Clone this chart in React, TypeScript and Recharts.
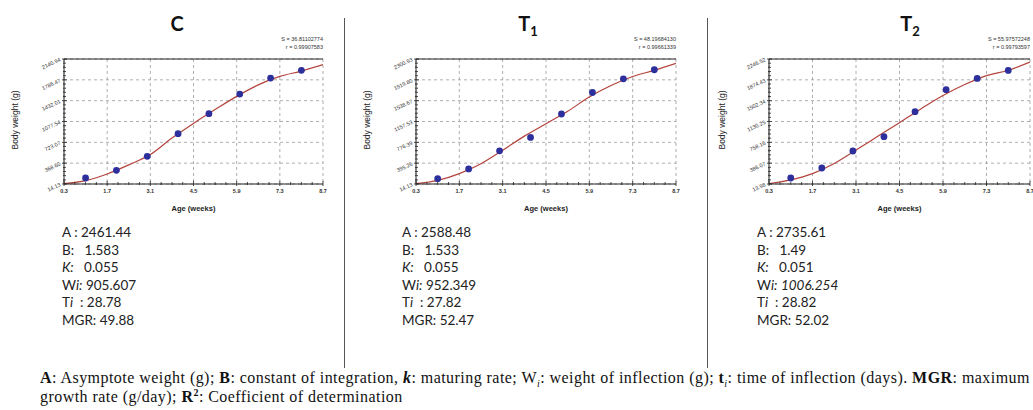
import React from "react";
import {
  ComposedChart,
  Line,
  Scatter,
  XAxis,
  YAxis,
  CartesianGrid,
  ReferenceLine,
} from "recharts";

// observed body weight (g) per week
const weeks = [1, 2, 3, 4, 5, 6, 7, 8];
const weightC = [116, 247, 485, 870, 1210, 1545, 1817, 1948];
const weightT1 = [112, 290, 621, 866, 1295, 1688, 1939, 2104];
const weightT2 = [121, 300, 603, 859, 1305, 1698, 1900, 2043];

// fitted curve
const fitAges = [0.3, 1.0, 1.7, 2.4, 3.1, 3.8, 4.5, 5.2, 5.9, 6.6, 7.3, 8.0, 8.7];
const fitC = [20, 72, 185, 340, 515, 795, 1045, 1280, 1505, 1700, 1845, 1935, 2045];
const fitT1 = [20, 80, 205, 385, 630, 890, 1117, 1345, 1605, 1815, 1980, 2093, 2220];
const fitT2 = [20, 88, 200, 380, 620, 865, 1110, 1360, 1595, 1790, 1950, 2045, 2190];

const xTicks = [0.3, 1.7, 3.1, 4.5, 5.9, 7.3, 8.7];
const yTicksC = [14.13, 368.6, 723.07, 1077.54, 1432.01, 1786.47, 2140.94];
const yTicksT1 = [14.13, 395.26, 776.39, 1157.53, 1538.67, 1919.8, 2300.93];
const yTicksT2 = [13.98, 386.07, 758.16, 1130.25, 1502.34, 1874.43, 2246.52];

const fitStats = [
  { s: "S = 36.81102774", r: "r = 0.99907583" },
  { s: "S = 48.19684130", r: "r = 0.99661339" },
  { s: "S = 55.97572248", r: "r = 0.99793597" },
];

const paramA = ["2461.44", "2588.48", "2735.61"];
const paramB = ["1.583", "1.533", "1.49"];
const paramK = ["0.055", "0.055", "0.051"];
const paramWi = ["905.607", "952.349", "1006.254"];
const paramTi = ["28.78", "27.82", "28.82"];
const paramMGR = ["49.88", "52.47", "52.02"];

const withMinor = (majors: number[], parts: number) => {
  const out: number[] = [];
  for (let i = 0; i < majors.length - 1; i++) {
    const step = (majors[i + 1] - majors[i]) / parts;
    for (let j = 0; j < parts; j++) out.push(majors[i] + step * j);
  }
  out.push(majors[majors.length - 1]);
  return out;
};

const isIn = (list: number[], v: number) => list.some((m) => Math.abs(m - v) < 1e-6);

const YTick = (props: any) => {
  const { x, y, payload, majors } = props;
  const major = isIn(majors, payload.value);
  return (
    <g>
      <line x1={x - (major ? 2 : 1)} x2={x + (major ? 3 : 2)} y1={y} y2={y} stroke="#222" strokeWidth={0.8} />
      {major && (
        <text
          x={x - 3}
          y={y + 2}
          textAnchor="end"
          fontSize={5.5}
          fill="#333"
          fontFamily="Arial, 'Liberation Sans', sans-serif"
          transform={`rotate(-25 ${x - 3} ${y + 2})`}
        >
          {payload.value.toFixed(2)}
        </text>
      )}
    </g>
  );
};

const XTick = (props: any) => {
  const { x, y, payload } = props;
  const major = isIn(xTicks, payload.value);
  return (
    <g>
      <line x1={x} x2={x} y1={y - (major ? 3 : 2)} y2={y + (major ? 2 : 1)} stroke="#222" strokeWidth={0.8} />
      {major && (
        <text
          x={x}
          y={y + 9}
          textAnchor="middle"
          fontSize={5.5}
          fontWeight="bold"
          fill="#333"
          fontFamily="Arial, 'Liberation Sans', sans-serif"
        >
          {payload.value.toFixed(1)}
        </text>
      )}
    </g>
  );
};

type PanelProps = {
  plotLeft: number;
  plotWidth: number;
  weights: number[];
  fit: number[];
  yTicks: number[];
};

const AXIS_W = 60;

function GrowthPanel({ plotLeft, plotWidth, weights, fit, yTicks }: PanelProps) {
  const points = weeks.map((x, i) => ({ x, w: weights[i] }));
  const curve = fitAges.map((x, i) => ({ x, w: fit[i] }));
  const yAll = withMinor(yTicks, 5);
  const xAll = withMinor(xTicks, 4);
  return (
    <div style={{ position: "absolute", left: plotLeft - AXIS_W, top: 0 }}>
      <ComposedChart
        width={AXIS_W + plotWidth + 4}
        height={215}
        margin={{ top: 59, right: 4, bottom: 0, left: 0 }}
      >
        <CartesianGrid
          stroke="#9a9a9a"
          strokeDasharray="3 3"
          strokeWidth={0.8}
          horizontalValues={yTicks}
          verticalValues={xTicks}
        />
        <XAxis
          dataKey="x"
          type="number"
          domain={[0.3, 8.7]}
          ticks={xAll}
          interval={0}
          height={31}
          tickLine={false}
          tickSize={0}
          tickMargin={0}
          axisLine={{ stroke: "#222", strokeWidth: 1 }}
          tick={<XTick />}
          allowDataOverflow
        />
        <YAxis
          type="number"
          domain={[yTicks[0], yTicks[yTicks.length - 1]]}
          ticks={yAll}
          interval={0}
          width={AXIS_W}
          tickLine={false}
          tickSize={0}
          tickMargin={0}
          axisLine={{ stroke: "#222", strokeWidth: 1 }}
          tick={<YTick majors={yTicks} />}
          allowDataOverflow
        />
        <ReferenceLine y={yTicks[yTicks.length - 1]} stroke="#222" strokeWidth={1} />
        <Line
          data={curve}
          dataKey="w"
          type="monotone"
          stroke="#b4433d"
          strokeWidth={1.2}
          dot={false}
          isAnimationActive={false}
        />
        <Scatter
          data={points}
          dataKey="w"
          fill="#2d2f9c"
          shape={(p: any) => <circle cx={p.cx} cy={p.cy} r={3.4} fill="#2d2f9c" />}
          isAnimationActive={false}
        />
      </ComposedChart>
    </div>
  );
}

const sans = "Lato, 'Open Sans', sans-serif";
const arial = "Arial, 'Liberation Sans', sans-serif";

const panels = [
  { plotLeft: 64, plotWidth: 259, weights: weightC, fit: fitC, yTicks: yTicksC, titleX: 177, statsX: 62, yLabelX: 15 },
  { plotLeft: 416, plotWidth: 260, weights: weightT1, fit: fitT1, yTicks: yTicksT1, titleX: 528, statsX: 402, yLabelX: 367 },
  { plotLeft: 769, plotWidth: 261, weights: weightT2, fit: fitT2, yTicks: yTicksT2, titleX: 910, statsX: 757, yLabelX: 722 },
];

function Title({ i }: { i: number }) {
  if (i === 0) return <span>C</span>;
  return (
    <span>
      T<sub style={{ fontSize: 13, verticalAlign: -5 }}>{i}</sub>
    </span>
  );
}

export default function App() {
  return (
    <div
      style={{
        position: "absolute",
        left: 0,
        top: 0,
        width: 1033,
        height: 410,
        overflow: "hidden",
        background: "#fff",
      }}
    >
      {panels.map((p, i) => (
        <React.Fragment key={i}>
          <GrowthPanel {...p} />
          <div
            style={{
              position: "absolute",
              left: p.titleX - 30,
              width: 60,
              top: 11,
              textAlign: "center",
              fontFamily: sans,
              fontWeight: 700,
              fontSize: 20,
              lineHeight: "24px",
              color: "#111",
            }}
          >
            <Title i={i} />
          </div>
          <div
            style={{
              position: "absolute",
              left: p.plotLeft + p.plotWidth - 80,
              width: 80,
              top: 36,
              textAlign: "right",
              fontFamily: arial,
              fontSize: 5.5,
              lineHeight: "7.5px",
              color: "#333",
              whiteSpace: "nowrap",
            }}
          >
            <div>{fitStats[i].s}</div>
            <div>{fitStats[i].r}</div>
          </div>
          <div
            style={{
              position: "absolute",
              left: p.yLabelX - 50,
              top: 115,
              width: 100,
              textAlign: "center",
              transform: "rotate(-90deg)",
              fontFamily: arial,
              fontSize: 8.5,
              lineHeight: "10px",
              color: "#222",
            }}
          >
            Body weight (g)
          </div>
          <div
            style={{
              position: "absolute",
              left: p.plotLeft + p.plotWidth / 2 - 50,
              top: 204,
              width: 100,
              textAlign: "center",
              fontFamily: arial,
              fontWeight: 600,
              fontSize: 7.5,
              lineHeight: "10px",
              color: "#222",
            }}
          >
            Age (weeks)
          </div>
          <div
            style={{
              position: "absolute",
              left: p.statsX,
              top: 224,
              fontFamily: sans,
              fontSize: 13.5,
              lineHeight: "17.5px",
              color: "#222",
              whiteSpace: "pre",
            }}
          >
            <div>A : {paramA[i]}</div>
            <div>B:   {paramB[i]}</div>
            <div>
              <i>K:</i>   {paramK[i]}
            </div>
            <div>
              W<i>i:</i> {i === 2 ? <i>{paramWi[i]}</i> : paramWi[i]}
            </div>
            <div>
              T<i>i</i>  : {paramTi[i]}
            </div>
            <div>MGR: {paramMGR[i]}</div>
          </div>
        </React.Fragment>
      ))}
      <div style={{ position: "absolute", left: 344, top: 18, width: 1, height: 350, background: "#555" }} />
      <div style={{ position: "absolute", left: 707, top: 18, width: 1, height: 350, background: "#555" }} />
      <div
        style={{
          position: "absolute",
          left: 40,
          top: 368,
          fontFamily: "'Liberation Serif', 'Times New Roman', serif",
          fontSize: 16,
          letterSpacing: 0.45,
          lineHeight: "19px",
          color: "#111",
          whiteSpace: "nowrap",
        }}
      >
        <div style={{ height: 19 }}>
          <b>A</b>: Asymptote weight (g); <b>B</b>: constant of integration, <b><i>k</i></b>: maturing rate; W
          <sub style={{ fontSize: 10, lineHeight: 0 }}><i>i</i></sub>: weight of inflection (g); <b>t</b>
          <sub style={{ fontSize: 10, lineHeight: 0 }}><i>i</i></sub>: time of inflection (days). <b>MGR</b>: maximum
        </div>
        <div style={{ height: 19 }}>
          growth rate (g/day); <b>R</b>
          <sup style={{ fontSize: 10, lineHeight: 0 }}><b>2</b></sup>: Coefficient of determination
        </div>
      </div>
    </div>
  );
}
